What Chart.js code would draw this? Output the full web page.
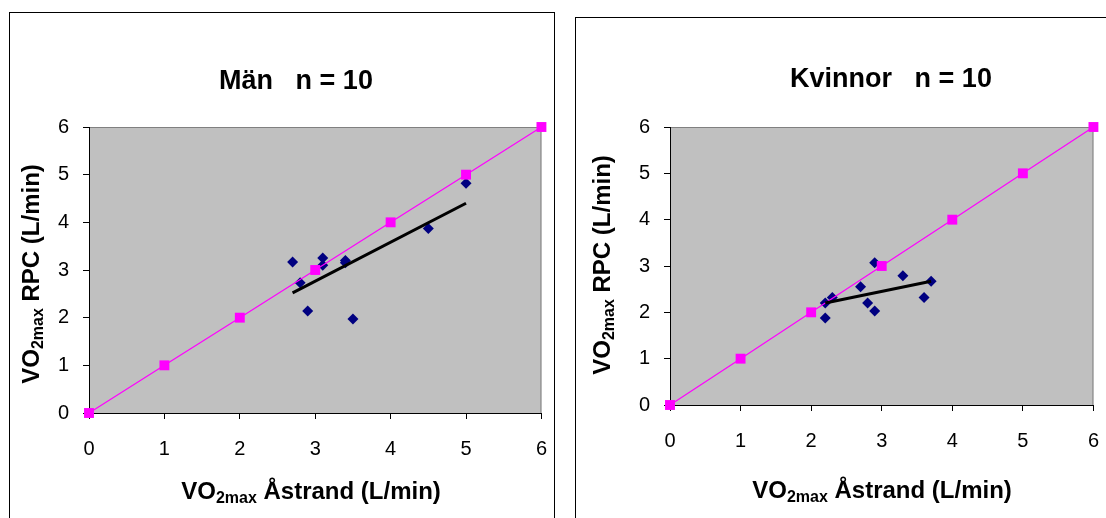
<!DOCTYPE html>
<html>
<head>
<meta charset="utf-8">
<script src="https://cdn.jsdelivr.net/npm/chart.js"></script>
<style>
  body { margin: 0; background: #fff; width: 1106px; height: 518px; overflow: hidden; position: relative; font-family: "Liberation Sans", Arial, sans-serif; }
  .frame { position: absolute; border: 1px solid #000; background: #fff; }
  canvas { position: absolute; left: 0; top: 0; }
</style>
</head>
<body>
<div class="frame" id="f1" style="left:9px; top:12px; width:544px; height:520px;">
  <canvas id="menChart" width="555" height="506"></canvas>
</div>
<div class="frame" id="f2" style="left:575px; top:17px; width:540px; height:520px;">
  <canvas id="womenChart" width="541" height="501"></canvas>
</div>
<script>
// axis ticks (both axes, both charts)
var tickValues = [0, 1, 2, 3, 4, 5, 6];

// line of identity (pink squares)
var identX = [0, 1, 2, 3, 4, 5, 6];
var identY = [0, 1, 2, 3, 4, 5, 6];

// Män: VO2max Åstrand vs VO2max RPC
var menX = [2.7, 2.8, 2.9, 3.1, 3.1, 3.4, 3.4, 3.5, 4.5, 5.0];
var menY = [3.17, 2.73, 2.14, 3.25, 3.1, 3.2, 3.15, 1.97, 3.87, 4.82];
var menTrendX = [2.7, 5.0];
var menTrendY = [2.52, 4.4];

// Kvinnor
var womenX = [2.2, 2.2, 2.3, 2.7, 2.8, 2.9, 2.9, 3.3, 3.6, 3.7];
var womenY = [1.88, 2.2, 2.32, 2.55, 2.2, 2.03, 3.07, 2.79, 2.32, 2.67];
var womenTrendX = [2.2, 3.7];
var womenTrendY = [2.2, 2.67];

function pts(xs, ys){
	var out = [];
	for(var i = 0; i < xs.length; i++){
		out.push({x: xs[i], y: ys[i]});
	}
	return out;
}

// text with a subscript part, centred on (x, y)
function drawParts(ctx, x, y, parts, rotate){
	ctx.save();
	ctx.translate(x, y);
	if(rotate){ ctx.rotate(-Math.PI / 2); }
	var total = 0;
	parts.forEach(function(p){
		ctx.font = "bold " + p.size + "px 'Liberation Sans', Arial, sans-serif";
		p.w = ctx.measureText(p.text).width;
		total += p.w;
	});
	var cx = -total / 2;
	ctx.fillStyle = "#000";
	ctx.textBaseline = "alphabetic";
	ctx.textAlign = "left";
	parts.forEach(function(p){
		ctx.font = "bold " + p.size + "px 'Liberation Sans', Arial, sans-serif";
		ctx.fillText(p.text, cx, p.dy);
		cx += p.w;
	});
	ctx.restore();
}

function makeChart(id, cfg){
	var deco = {
		id: "deco_" + id,
		beforeDraw: function(chart){
			var ctx = chart.ctx, a = chart.chartArea;
			ctx.save();
			ctx.fillStyle = "#c0c0c0";
			ctx.fillRect(a.left, a.top, a.right - a.left, a.bottom - a.top);
			ctx.strokeStyle = "#808080";
			ctx.lineWidth = 1;
			ctx.strokeRect(a.left + 0.5, a.top + 0.5, a.right - a.left - 1, a.bottom - a.top);
			ctx.restore();
		},
		afterDraw: function(chart){
			var ctx = chart.ctx;
			ctx.save();
			ctx.font = "bold 27px 'Liberation Sans', Arial, sans-serif";
			ctx.fillStyle = "#000";
			ctx.textAlign = "center";
			ctx.textBaseline = "middle";
			ctx.fillText(cfg.title, cfg.titleX, cfg.titleY);
			ctx.restore();
			drawParts(ctx, cfg.xtX, cfg.xtY, [
				{text: "VO", size: 24, dy: 0},
				{text: "2max", size: 16, dy: 4},
				{text: " \u00c5strand (L/min)", size: 24, dy: 0}
			], false);
			drawParts(ctx, cfg.ytX, cfg.ytY, [
				{text: "VO", size: 24, dy: 0},
				{text: "2max", size: 16, dy: 4},
				{text: " RPC (L/min)", size: 24, dy: 0}
			], true);
		}
	};

	var tickFont = {family: "'Liberation Sans', Arial, sans-serif", size: 20};

	return new Chart(document.getElementById(id), {
		type: "scatter",
		data: {
			datasets: [
				{
					label: "trend",
					data: pts(cfg.trendX, cfg.trendY),
					showLine: true,
					borderColor: "#000",
					borderWidth: 3,
					pointRadius: 0,
					clip: false
				},
				{
					label: "identity",
					data: pts(identX, identY),
					showLine: true,
					borderColor: "#ff00ff",
					borderWidth: 1.2,
					backgroundColor: "#ff00ff",
					pointBackgroundColor: "#ff00ff",
					pointBorderWidth: 0,
					pointStyle: "rect",
					pointRadius: 7,
					clip: false
				},
				{
					label: "data",
					data: pts(cfg.x, cfg.y),
					backgroundColor: "#000080",
					pointBorderColor: "#000080",
					pointBorderWidth: 0,
					pointStyle: "rectRot",
					pointRadius: 5.5,
					clip: false
				}
			]
		},
		options: {
			responsive: false,
			animation: false,
			devicePixelRatio: 1,
			layout: {
				padding: {left: 0, top: cfg.padTop, right: cfg.padRight, bottom: 0}
			},
			plugins: {
				legend: {display: false},
				title: {display: false},
				tooltip: {enabled: false}
			},
			scales: {
				x: {
					type: "linear",
					min: 0,
					max: 6,
					afterBuildTicks: function(scale){
						scale.ticks = tickValues.map(function(v){ return {value: v}; });
					},
					afterFit: function(scale){ scale.height = cfg.xHeight; },
					grid: {drawOnChartArea: false, drawTicks: true, tickLength: 6, tickColor: "#000"},
					border: {color: "#000", width: 1},
					ticks: {color: "#000", font: tickFont, padding: cfg.xPad, maxRotation: 0}
				},
				y: {
					type: "linear",
					min: 0,
					max: 6,
					afterBuildTicks: function(scale){
						scale.ticks = tickValues.map(function(v){ return {value: v}; });
					},
					afterFit: function(scale){ scale.width = cfg.yWidth; },
					grid: {drawOnChartArea: false, drawTicks: true, tickLength: 6, tickColor: "#000"},
					border: {color: "#000", width: 1},
					ticks: {color: "#000", font: tickFont, padding: cfg.yPad}
				}
			}
		},
		plugins: [deco]
	});
}

makeChart("menChart", {
	title: "M\u00e4n   n = 10",
	titleX: 286, titleY: 69,
	x: menX, y: menY, trendX: menTrendX, trendY: menTrendY,
	padTop: 114, padRight: 0, xHeight: 106, yWidth: 79,
	xPad: 18, yPad: 14,
	xtX: 301, xtY: 486,
	ytX: 29, ytY: 261
});

makeChart("womenChart", {
	title: "Kvinnor   n = 10",
	titleX: 315, titleY: 62,
	x: womenX, y: womenY, trendX: womenTrendX, trendY: womenTrendY,
	padTop: 109, padRight: 3, xHeight: 114, yWidth: 94,
	xPad: 18, yPad: 14,
	xtX: 306, xtY: 480,
	ytX: 34, ytY: 247
});
</script>
</body>
</html>
